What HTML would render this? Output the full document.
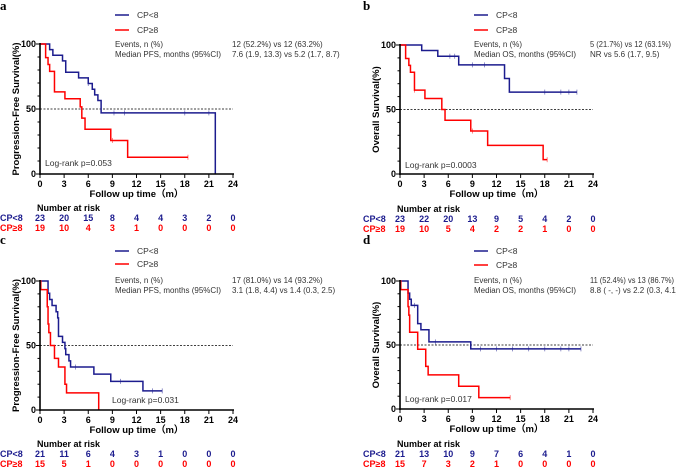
<!DOCTYPE html>
<html><head><meta charset="utf-8"><style>
body{margin:0;background:#fff;}
svg{display:block;font-family:"Liberation Sans",sans-serif;}
</style></head><body>
<svg id="fig" width="676" height="467" viewBox="0 0 676 467"></svg>
<script>
// ---- data ----
const xTicks=[0,3,6,9,12,15,18,21,24];
const aBlueT=[0,1.2,1.6,2.8,3.2,4.8,6.0,6.5,6.8,7.2,7.6,21.8];
const aBlueS=[100,95.7,91.3,87,78.3,73.9,69.6,65.2,60.9,56.5,47.0,0];
const aBlueEnd=21.8;
const aBlueCens=[6.0,9.2,10.5,18.0,21.0];
const aRedT=[0,0.7,1.0,1.2,1.8,3.1,5.0,5.2,5.6,8.8,10.9];
const aRedS=[100,89.5,84.2,78.9,63.2,57.9,51.6,43.0,34.4,25.8,12.9];
const aRedEnd=18.4;
const aRedCens=[9.0,18.4];
const bBlueT=[0,2.7,4.7,7.3,13.0,13.6];
const bBlueS=[100,95.7,91.3,84.6,74.0,63.5];
const bBlueEnd=22;
const bBlueCens=[6.2,6.8,9.0,10.5,18,20,21,22];
const bRedT=[0,0.7,1.1,1.3,1.8,3.1,5.2,5.6,8.8,10.9,17.8];
const bRedS=[100,89.5,84.2,78.9,65.0,58.5,50.0,41.7,33.3,22.2,11.1];
const bRedEnd=18.3;
const bRedCens=[1.8,9.0,18.3];
const cBlueT=[0,1.0,1.2,1.5,2.0,2.2,2.3,2.8,3.1,3.2,3.6,3.8,6.7,8.8,12.8];
const cBlueS=[100,90.5,85.7,81.0,76.2,71.4,57.1,52.4,47.6,42.9,38.1,33.3,27.8,22.2,14.8];
const cBlueEnd=15.2;
const cBlueCens=[4.4,10.0,14.0,15.2];
const cRedT=[0,0.1,0.9,1.0,1.1,1.3,1.8,2.3,3.1,3.3,7.3];
const cRedS=[100,93.3,80.0,66.7,60.0,50.0,40.0,33.3,20.0,13.3,0];
const cRedEnd=7.3;
const cRedCens=[];
const dBlueT=[0,1.0,1.2,1.4,2.2,2.6,3.6,8.8];
const dBlueS=[100,90.5,85.7,81.0,66.7,61.9,52.4,47.0];
const dBlueEnd=22.5;
const dBlueCens=[1.8,4.4,10,12,14,16,18,20,21,22.5];
const dRedT=[0,0.1,1.0,1.1,1.2,2.2,3.2,3.5,7.3,9.8];
const dRedS=[100,93.3,80.0,73.3,60.0,46.7,33.3,26.7,17.8,8.9];
const dRedEnd=13.7;
const dRedCens=[13.7];
const aRiskBlue=[23,20,15,8,4,4,3,2,0], aRiskRed=[19,10,4,3,1,0,0,0,0];
const bRiskBlue=[23,22,20,13,9,5,4,2,0], bRiskRed=[19,10,5,4,2,2,1,0,0];
const cRiskBlue=[21,11,6,4,3,1,0,0,0], cRiskRed=[15,5,1,0,0,0,0,0,0];
const dRiskBlue=[21,13,10,9,7,6,4,1,0], dRiskRed=[15,7,3,2,1,0,0,0,0];

const NS="http://www.w3.org/2000/svg";
const svg=document.getElementById('fig');
const BLUE="#1c1c8e",RED="#ff0000";
function el(tag,attrs,parent,txt){const e=document.createElementNS(NS,tag);for(const k in attrs)e.setAttribute(k,attrs[k]);if(txt!==undefined)e.textContent=txt;(parent||svg).appendChild(e);return e;}

function panel(p){
  const g=el('g',{});
  
  
  const X=t=>p.x0+(p.x1-p.x0)*t/24, Y=s=>p.y0-(p.y0-p.y100)*s/100;
  const lt=el('text',{x:p.ox,y:p.oy,'font-family':'Liberation Serif,serif','font-weight':'bold','font-size':13},g,p.letter);
  
  [[BLUE,'CP<8',p.legY1],[RED,'CP≥8',p.legY2]].forEach(([c,l,y])=>{
    const lg=el('g',{},g);
    
    el('line',{x1:p.legX,x2:p.legX+14,y1:y,y2:y,stroke:c,'stroke-width':1.5},lg);
    el('text',{x:p.legX+22,y:y+3,'font-size':8.5,fill:'#333'},lg,l);
  });
  const st=el('g',{'font-size':8,fill:'#333'},g);
  
  el('text',{x:p.legX,y:p.statY},st,'Events, n (%)');
  el('text',{x:p.legX,y:p.statY+10,textLength:p.medLen,lengthAdjust:'spacingAndGlyphs'},st,p.medLabel);
  const evA={x:p.valX,y:p.statY};
  if(p.evLen){evA.textLength=p.evLen;evA.lengthAdjust='spacingAndGlyphs';}
  el('text',evA,st,p.ev);
  el('text',{x:p.valX,y:p.statY+10},st,p.med);
  el('line',{x1:p.x0,x2:X(24),y1:Y(50),y2:Y(50),stroke:'#000','stroke-width':0.8,'stroke-dasharray':'2,1.5'},g);
  function curve(T,S,end,cens,c,name){
    let d=`M${X(T[0])},${Y(S[0])}`;
    for(let i=1;i<T.length;i++){d+=` H${X(T[i])} V${Y(S[i])}`;}
    d+=` H${X(end)}`;
    const pth=el('path',{d:d,fill:'none',stroke:c,'stroke-width':1.5},g);
    
    cens.forEach(t=>{let s=S[0];for(let i=0;i<T.length;i++)if(T[i]<=t)s=S[i];
      el('line',{x1:X(t),x2:X(t),y1:Y(s)-2.5,y2:Y(s)+2.5,stroke:c,'stroke-width':0.8,opacity:0.6},g);});
  }
  curve(p.bT,p.bS,p.bE,p.bC,BLUE,'curve-cp-lt8');
  curve(p.rT,p.rS,p.rE,p.rC,RED,'curve-cp-ge8');
  const ax=el('g',{},g);
  el('line',{x1:p.x0,x2:p.x0,y1:p.y100-1,y2:p.y0+1,stroke:'#000','stroke-width':1.6},ax);
  el('line',{x1:p.x0-1,x2:X(24)+1,y1:p.y0,y2:p.y0,stroke:'#000','stroke-width':1.6},ax);
  for(let s=0;s<=100;s+=10){const big=s%50===0;el('line',{x1:p.x0-(big?4:2.5),x2:p.x0,y1:Y(s),y2:Y(s),stroke:'#000','stroke-width':1},ax);
    if(big)el('text',{x:p.x0-4,y:Y(s)+3,'text-anchor':'end','font-size':9,'font-weight':'bold'},ax,s);}
  xTicks.forEach(t=>{el('line',{x1:X(t),x2:X(t),y1:p.y0,y2:p.y0+4,stroke:'#000','stroke-width':1},ax);
    el('text',{x:X(t),y:p.y0+13,'text-anchor':'middle','font-size':9,'font-weight':'bold'},ax,t);});
  const xt=el('text',{x:(p.x0+X(24))/2,y:p.y0+23,'text-anchor':'middle','font-size':9.5,'font-weight':'bold'},g,'Follow up time（m）');
  
  const yc=(p.y0+p.y100)/2;
  const yt=el('text',{x:p.x0-21,y:yc,'text-anchor':'middle','font-size':9.5,'font-weight':'bold',transform:`rotate(-90 ${p.x0-21} ${yc})`},g,p.yTitle);
  
  const lr=el('text',{x:p.lrX,y:p.lrY,'font-size':8.5,fill:'#333'},g,p.lr);
  
  const rt=el('g',{'font-size':9,'font-weight':'bold'},g);
  
  el('text',{x:X(0)-3,y:p.riskY},rt,'Number at risk');
  el('text',{x:p.rowX,y:p.riskY+10,fill:BLUE},rt,'CP<8');
  el('text',{x:p.rowX,y:p.riskY+20,fill:RED},rt,'CP≥8');
  xTicks.forEach((t,i)=>{
    el('text',{x:X(t),y:p.riskY+10,'text-anchor':'middle',fill:BLUE},rt,p.rb[i]);
    el('text',{x:X(t),y:p.riskY+20,'text-anchor':'middle',fill:RED},rt,p.rr[i]);
  });
}
panel({letter:'a',ox:0,oy:10,x0:40,x1:233,y100:44,y0:174,legX:115,legY1:15,legY2:30,statY:47,valX:232,medLen:106,
  medLabel:'Median PFS, months (95%CI)',ev:'12 (52.2%) vs 12 (63.2%)',med:'7.6 (1.9, 13.3) vs 5.2 (1.7, 8.7)',
  yTitle:'Progression-Free Survival(%)',lr:'Log-rank p=0.053',lrX:45,lrY:166,riskY:211,rowX:0,
  bT:aBlueT,bS:aBlueS,bE:aBlueEnd,bC:aBlueCens,rT:aRedT,rS:aRedS,rE:aRedEnd,rC:aRedCens,rb:aRiskBlue,rr:aRiskRed});
panel({letter:'b',ox:363,oy:10,x0:400,x1:593,y100:45,y0:174,legX:474,legY1:15,legY2:30,statY:47,valX:590,medLen:102,evLen:81,
  medLabel:'Median OS, months (95%CI)',ev:'5 (21.7%) vs 12 (63.1%)',med:'NR vs 5.6 (1.7, 9.5)',
  yTitle:'Overall Survival(%)',lr:'Log-rank p=0.0003',lrX:405,lrY:168,riskY:212,rowX:363,
  bT:bBlueT,bS:bBlueS,bE:bBlueEnd,bC:bBlueCens,rT:bRedT,rS:bRedS,rE:bRedEnd,rC:bRedCens,rb:bRiskBlue,rr:bRiskRed});
panel({letter:'c',ox:0,oy:244,x0:40,x1:233,y100:281,y0:410,legX:115,legY1:251,legY2:264,statY:283,valX:232,medLen:106,
  medLabel:'Median PFS, months (95%CI)',ev:'17 (81.0%) vs 14 (93.2%)',med:'3.1 (1.8, 4.4) vs 1.4 (0.3, 2.5)',
  yTitle:'Progression-Free Survival(%)',lr:'Log-rank p=0.031',lrX:112,lrY:403,riskY:447,rowX:0,
  bT:cBlueT,bS:cBlueS,bE:cBlueEnd,bC:cBlueCens,rT:cRedT,rS:cRedS,rE:cRedEnd,rC:cRedCens,rb:cRiskBlue,rr:cRiskRed});
panel({letter:'d',ox:363,oy:244,x0:400,x1:593,y100:281,y0:409,legX:474,legY1:251,legY2:265,statY:283,valX:590,medLen:102,evLen:84,
  medLabel:'Median OS, months (95%CI)',ev:'11 (52.4%) vs 13 (86.7%)',med:'8.8 ( -, -) vs 2.2 (0.3, 4.1)',
  yTitle:'Overall Survival(%)',lr:'Log-rank p=0.017',lrX:405,lrY:402,riskY:447,rowX:363,
  bT:dBlueT,bS:dBlueS,bE:dBlueEnd,bC:dBlueCens,rT:dRedT,rS:dRedS,rE:dRedEnd,rC:dRedCens,rb:dRiskBlue,rr:dRiskRed});
</script>
</body></html>
